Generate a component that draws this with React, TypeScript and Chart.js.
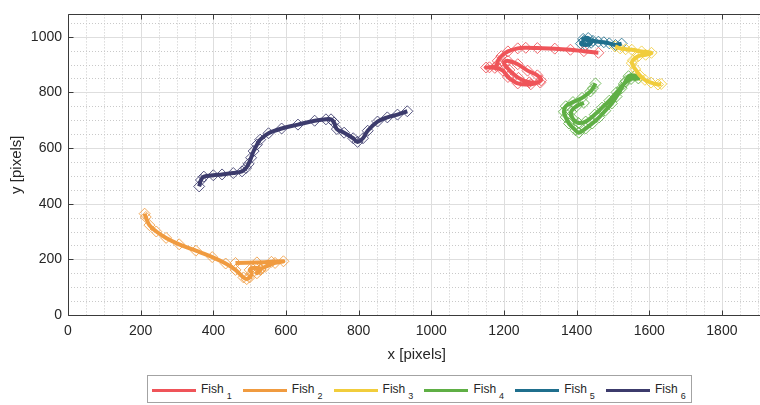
import React, { useEffect, useRef } from 'react';
import { Chart, registerables } from 'chart.js';

Chart.register(...registerables);

// ---- axis configuration ----
const X_MIN = 0;
const X_MAX = 1920;
const Y_MIN = 0;
const Y_MAX = 1080;
const MAJOR_STEP = 200;
const MINOR_STEP = 50;
const X_TITLE = 'x [pixels]';
const Y_TITLE = 'y [pixels]';

// ---- series ----
const SERIES_LABELS = ['Fish', 'Fish', 'Fish', 'Fish', 'Fish', 'Fish'];
const SERIES_SUBS = ['1', '2', '3', '4', '5', '6'];
const SERIES_COLORS = ['#EF5459', '#F09B40', '#F1CD3C', '#5FAF45', '#1F6F8D', '#3C3B6C'];

const fish1: number[][] = [
  [1460, 942], [1420, 948], [1383, 953], [1340, 957], [1292, 959], [1260, 960], [1238, 958],
  [1211, 947], [1193, 930], [1183, 913], [1179, 895], [1160, 890], [1151, 889], [1175, 888],
  [1197, 878], [1211, 855], [1238, 832], [1274, 829], [1302, 843], [1292, 861], [1265, 878],
  [1238, 901], [1211, 913], [1200, 905], [1215, 880], [1240, 852], [1270, 836], [1300, 835],
];
const fish2: number[][] = [
  [211, 364], [214, 352], [224, 323], [243, 300], [270, 277], [306, 254], [352, 231],
  [397, 208], [434, 185], [461, 162], [483, 135], [492, 129], [500, 135], [506, 150],
  [500, 162], [515, 170], [530, 162], [520, 150], [530, 165], [543, 173], [570, 187],
  [593, 193], [560, 191], [520, 189], [461, 187],
];
const fish3: number[][] = [
  [1506, 965], [1520, 958], [1535, 955], [1552, 953], [1579, 947], [1606, 942], [1590, 935],
  [1570, 930], [1555, 915], [1552, 905], [1561, 884], [1574, 861], [1588, 845], [1605, 835],
  [1624, 828], [1633, 830],
];
const fish4: number[][] = [
  [1452, 832], [1445, 815], [1438, 803], [1415, 780], [1390, 765], [1370, 750], [1365, 730],
  [1370, 711], [1379, 688], [1397, 664], [1406, 655], [1425, 670], [1443, 688], [1462, 710],
  [1479, 734], [1497, 760], [1510, 785], [1524, 815], [1535, 840], [1543, 858], [1560, 860],
  [1570, 850], [1550, 848], [1530, 830], [1510, 800], [1490, 770], [1470, 745], [1450, 720],
  [1425, 695], [1405, 690], [1390, 705], [1385, 730], [1400, 750], [1420, 762],
];
const fish5: number[][] = [
  [1420, 985], [1412, 975], [1425, 970], [1440, 978], [1432, 995], [1418, 992], [1445, 985],
  [1460, 982], [1475, 980], [1490, 976], [1507, 970], [1524, 975],
];
const fish6: number[][] = [
  [361, 462], [366, 485], [374, 497], [400, 502], [424, 505], [455, 510], [479, 516],
  [490, 528], [497, 543], [504, 565], [511, 589], [520, 612], [529, 630], [552, 653],
  [588, 670], [633, 684], [679, 698], [710, 703], [724, 703], [732, 692], [740, 668],
  [760, 655], [785, 635], [797, 622], [812, 635], [825, 662], [852, 695], [879, 710],
  [907, 720], [934, 732],
];
const SERIES_DATA = [fish1, fish2, fish3, fish4, fish5, fish6];

const FONT = '"Liberation Sans", Arial, Helvetica, sans-serif';
const TEXT_COLOR = '#262626';

function hexA(hex: string, a: number) {
  const n = parseInt(hex.slice(1), 16);
  return `rgba(${(n >> 16) & 255},${(n >> 8) & 255},${n & 255},${a})`;
}

const matlabAxes = {
  id: 'matlabAxes',
  beforeDatasetsDraw(chart: any) {
    const { ctx, chartArea: a, scales } = chart;
    const x = scales.x, y = scales.y;
    ctx.save();
    ctx.lineWidth = 1;
    // minor dotted grid
    ctx.strokeStyle = '#c9c9c9';
    ctx.setLineDash([1, 2]);
    for (let v = X_MIN; v <= X_MAX; v += MINOR_STEP) {
      if (v % MAJOR_STEP === 0) continue;
      const px = Math.round(x.getPixelForValue(v)) + 0.5;
      ctx.beginPath(); ctx.moveTo(px, a.top); ctx.lineTo(px, a.bottom); ctx.stroke();
    }
    for (let v = Y_MIN; v <= Y_MAX; v += MINOR_STEP) {
      if (v % MAJOR_STEP === 0) continue;
      const py = Math.round(y.getPixelForValue(v)) + 0.5;
      ctx.beginPath(); ctx.moveTo(a.left, py); ctx.lineTo(a.right, py); ctx.stroke();
    }
    // major solid grid
    ctx.setLineDash([]);
    ctx.strokeStyle = '#dedede';
    for (let v = X_MIN + MAJOR_STEP; v < X_MAX; v += MAJOR_STEP) {
      const px = Math.round(x.getPixelForValue(v)) + 0.5;
      ctx.beginPath(); ctx.moveTo(px, a.top); ctx.lineTo(px, a.bottom); ctx.stroke();
    }
    for (let v = Y_MIN + MAJOR_STEP; v < Y_MAX; v += MAJOR_STEP) {
      const py = Math.round(y.getPixelForValue(v)) + 0.5;
      ctx.beginPath(); ctx.moveTo(a.left, py); ctx.lineTo(a.right, py); ctx.stroke();
    }
    ctx.restore();
  },
  afterDatasetsDraw(chart: any) {
    const { ctx, chartArea: a, scales } = chart;
    const x = scales.x, y = scales.y;
    const T = 5;
    ctx.save();
    ctx.lineWidth = 1;
    ctx.strokeStyle = '#3a3a3a';
    const L = Math.round(a.left) + 0.5;
    const TOP = Math.round(a.top) + 0.5;
    const B = Math.round(a.bottom) + 0.5;
    ctx.beginPath();
    ctx.moveTo(L, TOP); ctx.lineTo(a.right, TOP);
    ctx.moveTo(L, B); ctx.lineTo(a.right, B);
    ctx.moveTo(L, TOP); ctx.lineTo(L, B);
    ctx.stroke();
    ctx.beginPath();
    for (let v = X_MIN; v < X_MAX; v += MAJOR_STEP) {
      const px = Math.round(x.getPixelForValue(v)) + 0.5;
      ctx.moveTo(px, TOP); ctx.lineTo(px, TOP + T);
      ctx.moveTo(px, B); ctx.lineTo(px, B - T);
    }
    for (let v = Y_MIN; v < Y_MAX; v += MAJOR_STEP) {
      const py = Math.round(y.getPixelForValue(v)) + 0.5;
      ctx.moveTo(L, py); ctx.lineTo(L + T, py);
    }
    ctx.stroke();
    ctx.restore();
  },
};

export default function App() {
  const ref = useRef<HTMLCanvasElement | null>(null);

  useEffect(() => {
    if (!ref.current) return;
    const datasets: any[] = [];
    SERIES_DATA.forEach((d, i) => {
      const pts = d.map(([x, y]) => ({ x, y }));
      datasets.push({
        label: SERIES_LABELS[i] + SERIES_SUBS[i],
        data: pts,
        showLine: true,
        borderColor: SERIES_COLORS[i],
        borderWidth: 4,
        tension: 0.35,
        pointRadius: 0,
        order: 0,
      });
      datasets.push({
        label: SERIES_LABELS[i] + SERIES_SUBS[i] + ' markers',
        data: pts,
        showLine: false,
        pointStyle: 'rectRot',
        pointRadius: 5.5,
        pointBorderWidth: 1,
        pointBackgroundColor: 'rgba(0,0,0,0)',
        pointBorderColor: hexA(SERIES_COLORS[i], 0.85),
        order: 1,
      });
    });

    const chart = new Chart(ref.current, {
      type: 'scatter',
      data: { datasets },
      options: {
        animation: false,
        responsive: false,
        devicePixelRatio: 1,
        layout: { padding: { left: 0, right: 0, top: 4, bottom: 37 } },
        plugins: { legend: { display: false }, tooltip: { enabled: false } },
        scales: {
          x: {
            type: 'linear',
            min: X_MIN,
            max: X_MAX,
            grid: { display: false, drawTicks: false },
            border: { display: false },
            ticks: {
              stepSize: MAJOR_STEP,
              includeBounds: false,
              autoSkip: false,
              maxRotation: 0,
              padding: 8,
              color: TEXT_COLOR,
              font: { family: FONT, size: 14 },
              callback: (v: any) => String(v),
            },
            title: {
              display: true,
              text: X_TITLE,
              color: TEXT_COLOR,
              font: { family: FONT, size: 15 },
              padding: { top: 4, bottom: 4 },
            },
            afterFit: (s: any) => { s.height = 53; },
          },
          y: {
            type: 'linear',
            min: Y_MIN,
            max: Y_MAX,
            grid: { display: false, drawTicks: false },
            border: { display: false },
            ticks: {
              stepSize: MAJOR_STEP,
              includeBounds: false,
              padding: 6,
              color: TEXT_COLOR,
              font: { family: FONT, size: 14 },
              callback: (v: any) => String(v),
            },
            title: {
              display: true,
              text: Y_TITLE,
              color: TEXT_COLOR,
              font: { family: FONT, size: 15 },
              padding: { top: 8, bottom: 4 },
            },
            afterFit: (s: any) => { s.width = 68; },
          },
        },
      },
      plugins: [matlabAxes],
    } as any);
    return () => chart.destroy();
  }, []);

  return (
    <div style={{ position: 'fixed', left: 0, top: 0, width: 760, height: 405, overflow: 'hidden', background: '#fff' }}>
      <canvas ref={ref} width={772} height={405} style={{ position: 'absolute', left: 0, top: 0, width: 772, height: 405 }} />
      <div
        style={{
          position: 'absolute', left: 147, top: 375, width: 543, height: 26,
          border: '1px solid #a3a3a3', background: '#fff', fontFamily: FONT, color: TEXT_COLOR,
        }}
      >
        {SERIES_LABELS.map((lab, i) => (
          <React.Fragment key={i}>
            <div style={{ position: 'absolute', left: 4 + i * 90.8, top: 13, width: 44, height: 2.5, background: SERIES_COLORS[i] }} />
            <div style={{ position: 'absolute', left: 53 + i * 90.8, top: 7, fontSize: 12, lineHeight: '12px', whiteSpace: 'nowrap' }}>
              {lab}
              <span style={{ position: 'relative', top: 6, fontSize: 9, marginLeft: 3 }}>{SERIES_SUBS[i]}</span>
            </div>
          </React.Fragment>
        ))}
      </div>
    </div>
  );
}
